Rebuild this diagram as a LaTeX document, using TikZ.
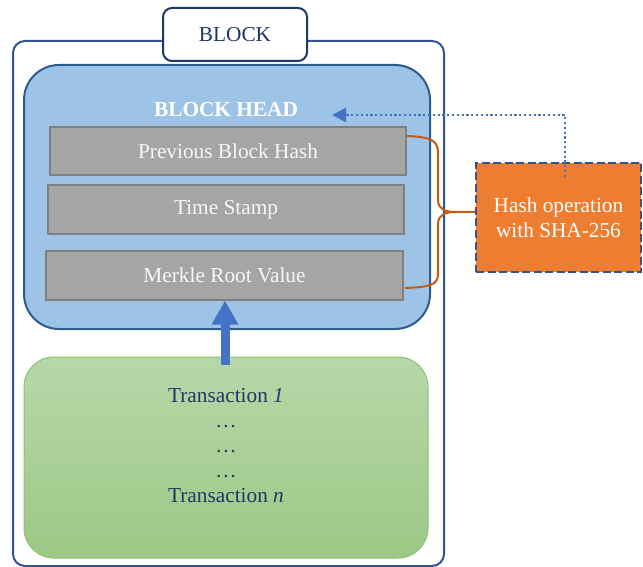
\documentclass[tikz,border=0pt]{standalone}
\usepackage{fontspec}
\setmainfont{Liberation Serif}
\usetikzlibrary{arrows.meta,calc}
\definecolor{outerblue}{HTML}{2F5597}
\definecolor{navy}{HTML}{1F3864}
\definecolor{headfill}{HTML}{9DC3E6}
\definecolor{headdraw}{HTML}{2B5D8C}
\definecolor{grayfill}{HTML}{A5A5A5}
\definecolor{graydraw}{HTML}{7F7F7F}
\definecolor{graytext}{HTML}{F7F7F7}
\definecolor{greentop}{HTML}{B7D7A8}
\definecolor{greenbot}{HTML}{9CC886}
\definecolor{greendraw}{HTML}{8CC070}
\definecolor{arrowblue}{HTML}{4472C4}
\definecolor{orangefill}{HTML}{ED7D31}
\definecolor{bracecol}{HTML}{C55A11}
\tikzset{
  txt/.style={font=\fontsize{21.3}{25}\selectfont},
  fieldbox/.style={draw=graydraw, fill=grayfill, line width=2pt, text=graytext,
    txt, inner sep=0pt},
}
\begin{document}
\begin{tikzpicture}[x=1pt,y=-1pt]
\useasboundingbox (0,0) rectangle (643,567);
% outer block
\node[draw=outerblue, line width=2pt, rounded corners=12pt, minimum width=431pt,
  minimum height=525pt, inner sep=0pt] (outer) at (228.5,303.5) {};
% block label
\node[draw=navy, fill=white, line width=2pt, rounded corners=9pt, minimum width=144pt,
  minimum height=53pt, inner sep=0pt, text=navy, txt] (blocklabel) at (235,34.5) {BLOCK};
% block head
\node[draw=headdraw, fill=headfill, line width=2pt, rounded corners=35pt, minimum width=406pt,
  minimum height=264pt, inner sep=0pt] (head) at (227,197) {};
\node[text=white, font=\fontsize{21.3}{25}\selectfont\bfseries, inner sep=0pt] (headtitle) at (226,110) {BLOCK HEAD};
% fields
\node[fieldbox, minimum width=356pt, minimum height=48pt] (prev) at (228,151) {Previous Block Hash};
\node[fieldbox, minimum width=356pt, minimum height=48pt] (time) at (226,209.5) {Time Stamp};
\node[fieldbox, minimum width=357pt, minimum height=49pt] (merkle) at (224.5,275) {Merkle Root Value};
% transactions
\node[draw=greendraw, line width=1pt, rounded corners=30pt, top color=greentop, bottom color=greenbot,
  minimum width=404pt, minimum height=201pt, inner sep=0pt] (tx) at (226,457.5) {};
\node[text=navy, txt, align=center, inner sep=0pt, anchor=north] (txtext) at (226,388)
  {Transaction \textit{1}\\\dots\\\dots\\\dots\\Transaction \textit{n}};
% blue arrow
\coordinate (arrstart) at (225,365);
\draw[arrowblue, line width=9pt, -{Triangle[width=25pt,length=24pt]}] (arrstart) -- (arrstart |- merkle.south);
% hash box
\node[draw=outerblue, dash pattern=on 8pt off 3.5pt, line width=2.2pt, fill=orangefill,
  minimum width=165pt, minimum height=109pt, inner sep=0pt, text=white, txt, align=center] (hash) at (558.5,217.5)
  {Hash operation\\with SHA-256};
% brace
\coordinate (bA) at (407,136);
\coordinate (bM) at (455,212);
\coordinate (bB) at (405,288);
\draw[bracecol, line width=2pt] (bA) .. controls (432,137) and (438,141) .. (438,153) -- (438,200)
  .. controls (438,209) and (445,212) .. (bM) -- (bM -| hash.west);
\draw[bracecol, line width=2pt] (bM) .. controls (445,212) and (438,215) .. (438,224) -- (438,274)
  .. controls (438,285) and (430,287) .. (bB);
% dotted feedback
\coordinate (dS) at (565,177);
\coordinate (dC) at (565,115);
\coordinate (dE) at (332,115);
\draw[arrowblue, line width=2.6pt, dash pattern=on 2.2pt off 2.6pt, -{Triangle[width=14pt,length=14pt]}] (dS) -- (dC) -- (dE);
\end{tikzpicture}
\end{document}
